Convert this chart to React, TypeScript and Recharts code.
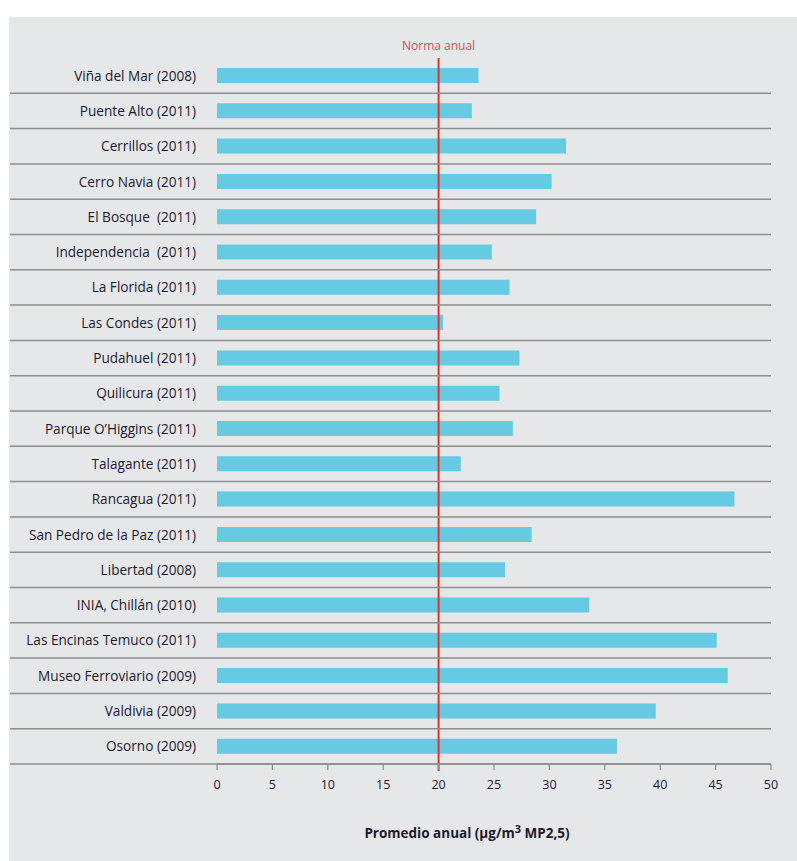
import React from "react";
import { BarChart, Bar, XAxis, YAxis, ReferenceLine } from "recharts";

const stations = [
  "Viña del Mar (2008)",
  "Puente Alto (2011)",
  "Cerrillos (2011)",
  "Cerro Navia (2011)",
  "El Bosque  (2011)",
  "Independencia  (2011)",
  "La Florida (2011)",
  "Las Condes (2011)",
  "Pudahuel (2011)",
  "Quilicura (2011)",
  "Parque O’Higgins (2011)",
  "Talagante (2011)",
  "Rancagua (2011)",
  "San Pedro de la Paz (2011)",
  "Libertad (2008)",
  "INIA, Chillán (2010)",
  "Las Encinas Temuco (2011)",
  "Museo Ferroviario (2009)",
  "Valdivia (2009)",
  "Osorno (2009)",
];

const promedio = [
  23.6, 23.0, 31.5, 30.2, 28.8, 24.8, 26.4, 20.4, 27.3, 25.5,
  26.7, 22.0, 46.7, 28.4, 26.0, 33.6, 45.1, 46.1, 39.6, 36.1,
];

const xTicks = [0, 5, 10, 15, 20, 25, 30, 35, 40, 45, 50];
const norma = 20;

const data = stations.map((name, i) => ({ name, value: promedio[i] }));

const W = 788;
const H = 844;
const M = { top: 41, right: 26, bottom: 37, left: 0 };
const X_AXIS_H = 60;
const Y_AXIS_W = 208;
const ROW = (H - M.top - M.bottom - X_AXIS_H) / stations.length;

const FONT = "'Open Sans', sans-serif";
const TEXT = "#221a30";
const RULE = "#8e8e8e";

const RowTick = (props: any) => {
  const { x, y, payload } = props;
  const yLine = y + ROW / 2;
  return (
    <g>
      <line x1={1} x2={W - M.right} y1={yLine} y2={yLine} stroke={RULE} strokeWidth={1.5} />
      <text
        x={x}
        y={y}
        dy={5}
        textAnchor="end"
        fontSize={13.6}
        fill={TEXT}
        fontFamily={FONT}
        style={{ whiteSpace: "pre" }}
      >
        {payload.value}
      </text>
    </g>
  );
};

const AxisTitle = (props: any) => {
  const vb = props.viewBox || {};
  const cx = vb.x + vb.width / 2 - 27;
  return (
    <text x={cx} y={vb.y + 74} textAnchor="middle" fontSize={13.5} fontWeight={700} fill="#1f1a2e" fontFamily={FONT}>
      Promedio anual (µg/m
      <tspan dy={-5} fontSize={11}>3</tspan>
      <tspan dy={5}> MP2,5)</tspan>
    </text>
  );
};

const NormaLine = (props: any) => {
  const top = Math.min(props.y1, props.y2);
  const bottom = Math.max(props.y1, props.y2);
  return <line x1={props.x1} x2={props.x2} y1={top} y2={bottom + 7} stroke="#e5332a" strokeWidth={2} />;
};

export default function App() {
  return (
    <div style={{ position: "absolute", left: 0, top: 0, width: 797, height: 861, background: "#fff" }}>
      <div style={{ position: "absolute", left: 9, top: 17, width: W, height: H, background: "#e6e7e9" }}>
        <BarChart width={W} height={H} data={data} layout="vertical" margin={M} barCategoryGap={0}>
          <XAxis
            type="number"
            domain={[0, 50]}
            ticks={xTicks}
            interval={0}
            height={X_AXIS_H}
            axisLine={{ stroke: RULE, strokeWidth: 1.5 }}
            tickLine={{ stroke: RULE, strokeWidth: 1.2 }}
            tickSize={6}
            tickMargin={10}
            tick={{ fontSize: 12.5, fill: TEXT, fontFamily: FONT }}
            label={<AxisTitle />}
          />
          <YAxis
            type="category"
            dataKey="name"
            width={Y_AXIS_W}
            axisLine={false}
            tickLine={false}
            tickSize={0}
            tickMargin={21}
            interval={0}
            tick={<RowTick />}
          />
          <Bar dataKey="value" fill="#65cae2" barSize={15} isAnimationActive={false} />
          <ReferenceLine
            x={norma}
            shape={<NormaLine />}
            label={{ value: "Norma anual", position: "top", offset: 8, fill: "#c9505c", fontSize: 12, fontFamily: FONT }}
          />
        </BarChart>
      </div>
    </div>
  );
}
